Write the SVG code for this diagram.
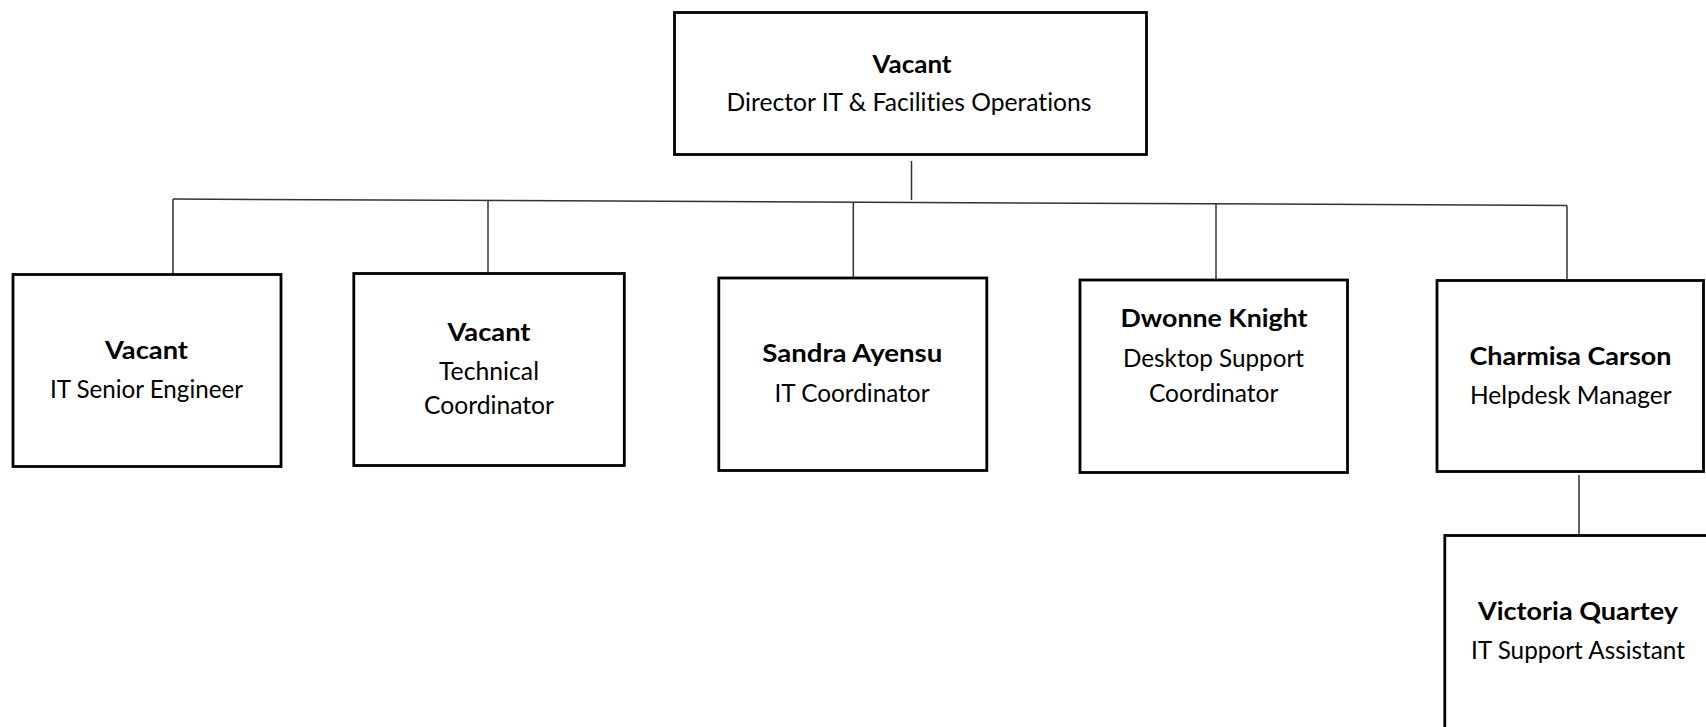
<svg xmlns="http://www.w3.org/2000/svg" width="1706" height="727" viewBox="0 0 1706 727">
<style>
.box{fill:#fff;stroke:#000;stroke-width:2.8}
.c{fill:none;stroke:#333;stroke-width:1.5}
.n{font-family:Lato,"Open Sans","Liberation Sans",sans-serif;font-weight:bold;font-size:24.5px;fill:#000;text-anchor:middle;font-variant-ligatures:none}
.t{font-family:Lato,"Open Sans","Liberation Sans",sans-serif;font-size:24.5px;fill:#000;text-anchor:middle;font-variant-ligatures:none}
</style>
<rect width="1706" height="727" fill="#fff"/>
<g id="connectors">
<line class="c" x1="911.5" y1="161" x2="911.5" y2="200"/>
<line class="c" x1="173" y1="199" x2="1567" y2="205.5"/>
<line class="c" x1="173" y1="199" x2="173" y2="274"/>
<line class="c" x1="488" y1="200.5" x2="488" y2="273"/>
<line class="c" x1="853.3" y1="202" x2="853.3" y2="278"/>
<line class="c" x1="1216" y1="204" x2="1216" y2="279.5"/>
<line class="c" x1="1567" y1="205.5" x2="1567" y2="280"/>
<line class="c" x1="1579" y1="475" x2="1579" y2="535"/>
</g>
<g id="director">
<rect class="box" x="674.5" y="12.5" width="472" height="142"/>
<text class="n" x="912" y="72.7" textLength="79" lengthAdjust="spacingAndGlyphs">Vacant</text>
<text class="t" x="909" y="111" textLength="365" lengthAdjust="spacingAndGlyphs">Director IT &amp; Facilities Operations</text>
</g>
<g id="senior-engineer">
<rect class="box" x="13" y="274.5" width="268" height="192"/>
<text class="n" x="146.5" y="358.5" textLength="83" lengthAdjust="spacingAndGlyphs">Vacant</text>
<text class="t" x="146.5" y="397.5" textLength="193" lengthAdjust="spacingAndGlyphs">IT Senior Engineer</text>
</g>
<g id="technical-coordinator">
<rect class="box" x="353.8" y="273.5" width="270.5" height="192"/>
<text class="n" x="489" y="340.7" textLength="83" lengthAdjust="spacingAndGlyphs">Vacant</text>
<text class="t" x="489" y="380" textLength="100" lengthAdjust="spacingAndGlyphs">Technical</text>
<text class="t" x="489" y="414" textLength="130" lengthAdjust="spacingAndGlyphs">Coordinator</text>
</g>
<g id="it-coordinator">
<rect class="box" x="718.8" y="278" width="268" height="192.5"/>
<text class="n" x="852.3" y="362.3" textLength="180" lengthAdjust="spacingAndGlyphs">Sandra Ayensu</text>
<text class="t" x="852" y="401.7" textLength="155" lengthAdjust="spacingAndGlyphs">IT Coordinator</text>
</g>
<g id="desktop-support">
<rect class="box" x="1080" y="280" width="267.5" height="192.5"/>
<text class="n" x="1214" y="326.7" textLength="187" lengthAdjust="spacingAndGlyphs">Dwonne Knight</text>
<text class="t" x="1213.5" y="366.7" textLength="181" lengthAdjust="spacingAndGlyphs">Desktop Support</text>
<text class="t" x="1213.7" y="401.7" textLength="129.5" lengthAdjust="spacingAndGlyphs">Coordinator</text>
</g>
<g id="helpdesk-manager">
<rect class="box" x="1437" y="280.5" width="266.5" height="191"/>
<text class="n" x="1570.5" y="364.7" textLength="202" lengthAdjust="spacingAndGlyphs">Charmisa Carson</text>
<text class="t" x="1570.8" y="404.2" textLength="201.5" lengthAdjust="spacingAndGlyphs">Helpdesk Manager</text>
</g>
<g id="support-assistant">
<rect class="box" x="1444.8" y="535.5" width="268" height="200"/>
<text class="n" x="1578" y="620" textLength="200" lengthAdjust="spacingAndGlyphs">Victoria Quartey</text>
<text class="t" x="1578" y="659" textLength="214" lengthAdjust="spacingAndGlyphs">IT Support Assistant</text>
</g>
</svg>
